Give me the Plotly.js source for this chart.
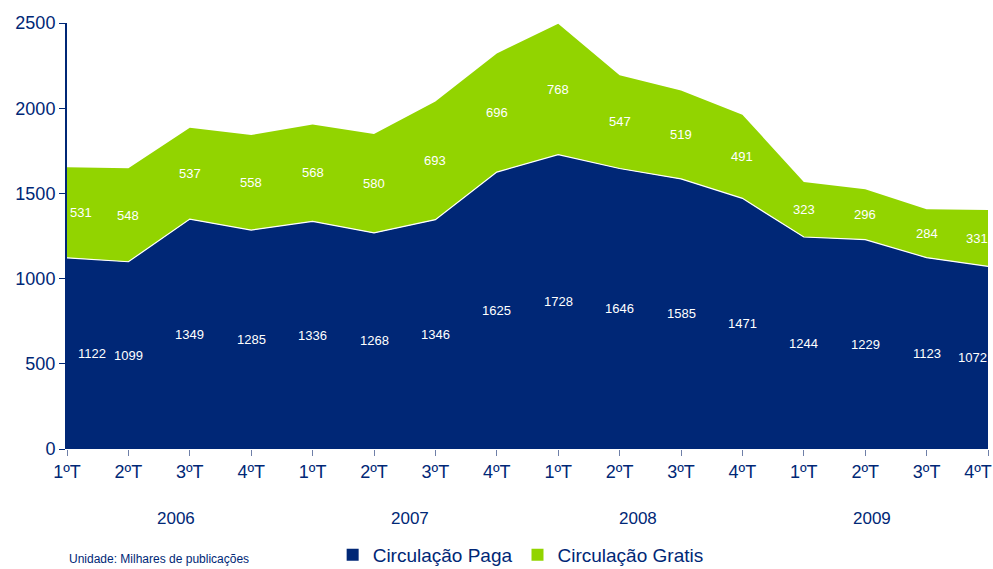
<!DOCTYPE html>
<html>
<head>
<meta charset="utf-8">
<script src="https://cdn.plot.ly/plotly-3.0.1.min.js"></script>
<style>html,body{margin:0;padding:0;background:#fff;}#chart{width:993px;height:569px;}</style>
</head>
<body>
<div id="chart"></div>
<script>
const quarters = ["1ºT","2ºT","3ºT","4ºT","1ºT","2ºT","3ºT","4ºT","1ºT","2ºT","3ºT","4ºT","1ºT","2ºT","3ºT","4ºT"];
const years = ["2006","2007","2008","2009"];
const yearPos = [1.78, 5.59, 9.3, 13.11];
const paga = [1122,1099,1349,1285,1336,1268,1346,1625,1728,1646,1585,1471,1244,1229,1123,1072];
const gratis = [531,548,537,558,568,580,693,696,768,547,519,491,323,296,284,331];

const NAVY = "#002776";
const GREEN = "#92D400";
const FONT = "Liberation Sans, Arial, sans-serif";
const xs = quarters.map((q, i) => i);
// keep the last tick label inside the page (pad on its right so it sits left of the edge)
const tickText = quarters.map((q, i) => i === quarters.length - 1 ? q + "\u00a0\u00a0\u00a0\u00a0" : q);

const traces = [
  {x: xs, y: paga, type: "scatter", mode: "lines", stackgroup: "one",
   fillcolor: NAVY, line: {color: "#ffffff", width: 1.2}, showlegend: false, hoverinfo: "skip"},
  {x: xs, y: gratis, type: "scatter", mode: "lines", stackgroup: "one",
   fillcolor: GREEN, line: {color: GREEN, width: 0}, showlegend: false, hoverinfo: "skip"},
  {x: [null], y: [null], type: "bar", name: "Circulação Paga", marker: {color: NAVY}},
  {x: [null], y: [null], type: "bar", name: "Circulação Gratis", marker: {color: GREEN}}
];

const annotations = [];
const n = paga.length;
const labFont = {family: FONT, size: 13, color: "#ffffff"};
paga.forEach((v, i) => {
  let sh = 0;
  if (i === 0) sh = 25;
  if (i === n - 1) sh = -16;
  annotations.push({x: i, y: v / 2, text: String(v), showarrow: false, xshift: sh, font: labFont});
});
gratis.forEach((v, i) => {
  let sh = 0;
  if (i === 0) sh = 14;
  if (i === n - 1) sh = -11;
  annotations.push({x: i, y: paga[i] + v / 2, text: String(v), showarrow: false, xshift: sh, font: labFont});
});
years.forEach((yr, i) => {
  annotations.push({x: yearPos[i], xref: "x", y: 0, yref: "paper", yanchor: "middle",
    yshift: -69, text: yr, showarrow: false,
    font: {family: FONT, size: 17, color: NAVY}});
});
annotations.push({x: 0, xref: "paper", xanchor: "left", y: 0, yref: "paper", yanchor: "middle",
  yshift: -110, text: "Unidade: Milhares de publicações", showarrow: false,
  font: {family: FONT, size: 12, color: NAVY}});

const layout = {
  width: 993, height: 569,
  margin: {l: 67, r: 5, t: 23, b: 120},
  paper_bgcolor: "#ffffff", plot_bgcolor: "#ffffff",
  font: {family: FONT, color: NAVY},
  xaxis: {range: [0, 15], tickmode: "array", tickvals: xs, ticktext: tickText,
    showgrid: false, zeroline: false, showline: false, ticklabeloverflow: "allow",
    ticks: "outside", ticklen: 6, tickcolor: "#6f7fa8", tickwidth: 1,
    tickfont: {family: FONT, size: 18, color: NAVY}, fixedrange: true, automargin: false},
  yaxis: {range: [0, 2500], tickvals: [0, 500, 1000, 1500, 2000, 2500],
    showgrid: false, zeroline: false, showline: true, linecolor: NAVY, linewidth: 2,
    ticks: "outside", ticklen: 6, tickcolor: NAVY, tickwidth: 1,
    tickfont: {family: FONT, size: 18, color: NAVY}, fixedrange: true, automargin: false},
  showlegend: true,
  legend: {orientation: "h", traceorder: "normal", xref: "container", x: 0.335, xanchor: "left",
    yref: "container", y: 0.025, yanchor: "middle",
    font: {family: FONT, size: 19, color: NAVY}, itemwidth: 30, tracegroupgap: 0,
    bgcolor: "rgba(0,0,0,0)"},
  annotations: annotations
};

Plotly.newPlot("chart", traces, layout, {displayModeBar: false, staticPlot: true});
</script>
</body>
</html>
